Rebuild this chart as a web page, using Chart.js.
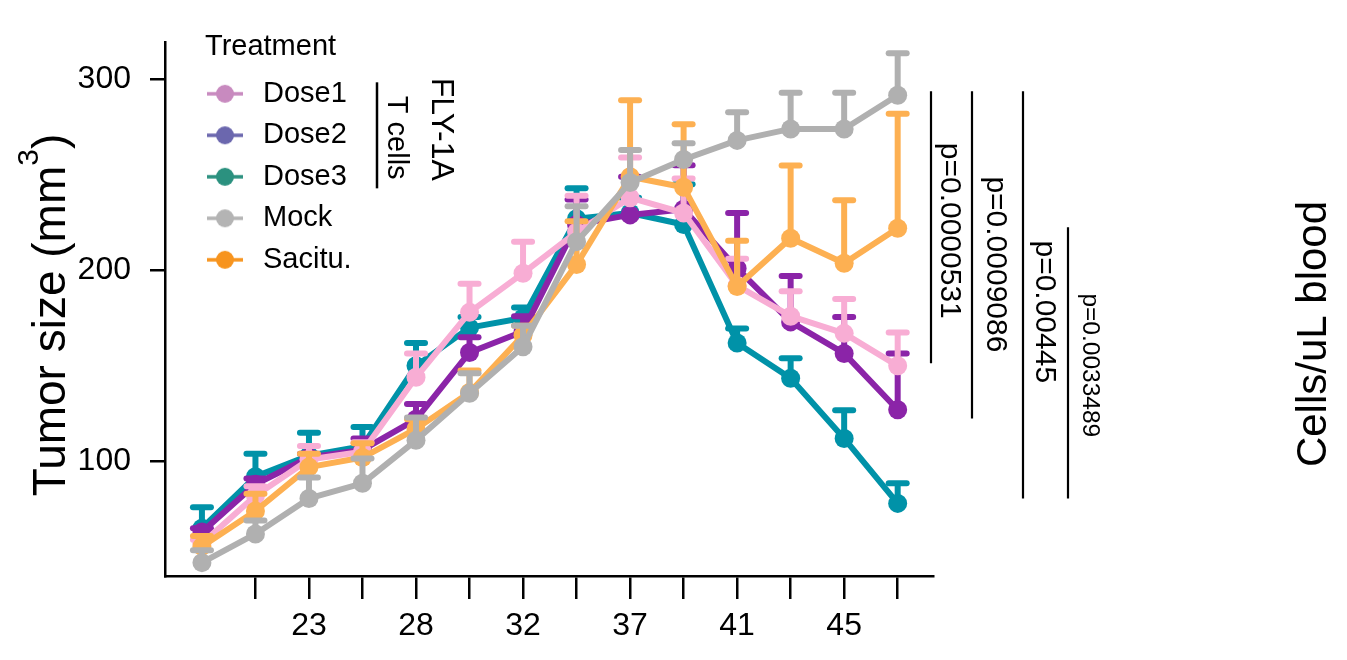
<!DOCTYPE html>
<html>
<head>
<meta charset="utf-8">
<script src="https://cdn.jsdelivr.net/npm/chart.js@4.4.1/dist/chart.umd.min.js"></script>
<style>
html,body{margin:0;padding:0;background:#fff;}
canvas{display:block;}
</style>
</head>
<body>
<canvas id="c" width="1347" height="660" style="width:1347px;height:660px"></canvas>
<script>
// ---------- DATA ----------
const dayIndex   = [0,1,2,3,4,5,6,7,8,9,10,11,12,13];
const tickLabels = ['', '', '23', '', '28', '', '32', '', '37', '', '41', '', '45', ''];
const yTicks     = [100, 200, 300];

const seriesNames = ['Dose1', 'Dose2', 'Dose3', 'Mock', 'Sacitu.'];

const dose1    = [57, 82, 101, 105, 144, 178, 198.5, 220, 238, 230, 192, 176, 167, 150];
const dose1Err = [2, 5, 7, 5, 12.5, 15, 16.5, 19, 21, 18, 14, 13, 18, 17.5];

const dose2    = [63, 88, 102, 106, 122, 157, 168, 224, 229, 232, 201, 173, 156.5, 127];
const dose2Err = [2, 3, 2, 6, 8, 8, 8, 13, 20, 23, 29, 24, 19, 29.5];

const dose3    = [65, 92, 103, 108, 150, 170, 175, 227, 230, 224, 162, 143.5, 112, 78];
const dose3Err = [11, 12, 12, 10, 12, 5.5, 5.6, 16, 8, 21, 7.6, 10.5, 14.7, 10.5];

const mock     = [47, 62, 80.6, 88.5, 111, 135.6, 160, 215, 246, 258, 268, 274, 274, 291.6];
const mockErr  = [6.5, 7, 11, 13, 12, 10.5, 11, 18.5, 17, 8.5, 14.7, 19, 19, 22];

const sacitu    = [55.5, 74, 97, 102, 117, 136, 166, 203, 249, 243.5, 191.5, 216.8, 203.7, 222];
const sacituErr = [5.5, 9, 7, 7.5, 5, 11.6, 5, 22.7, 40, 33, 24, 38, 33, 60];

// p-value brackets (y extents in data units)
const pTexts  = ['p=0.0000531', 'p=0.0009086', 'p=0.00445', 'p=0.0033489'];
const pFrom   = [293.7, 293.7, 293.7, 222.5];
const pTo     = [151.3, 122.5, 80.6, 80.6];
const pMid    = [220.7, 203.1, 178.3, 150.3];

// ---------- STYLE / LAYOUT ----------
const FONT = "'Liberation Sans', Arial, Helvetica, sans-serif";
const lineColors   = ['#F8ADD4', '#8B24A8', '#0092A8', '#B0B0B0', '#FDB052'];
const legendColors = ['#C88ABF', '#6B67AE', '#2B917F', '#B4B4B4', '#F7941E'];
const drawOrder    = [2, 3, 4, 0, 1];
const pLineDx  = [-2, 39, 90, 135];
const pTextDx  = [8, 54, 103, 150];
const pFont    = [30, 30, 30, 24.5];

const allValues = [dose1, dose2, dose3, mock, sacitu];
const allErrs   = [dose1Err, dose2Err, dose3Err, mockErr, sacituErr];

function makeMarker(color) {
  const c = document.createElement('canvas');
  c.width = 52; c.height = 22;
  const g = c.getContext('2d');
  g.strokeStyle = color; g.fillStyle = color; g.lineWidth = 3.5;
  g.beginPath(); g.moveTo(0, 11); g.lineTo(36, 11); g.stroke();
  g.beginPath(); g.arc(18, 11, 9, 0, Math.PI * 2); g.fill();
  return c;
}
const markers = legendColors.map(makeMarker);

const datasets = seriesNames.map((name, k) => ({
  label: name,
  data: dayIndex.map((d, i) => ({x: d, y: allValues[k][i]})),
  errors: allErrs[k],
  borderColor: lineColors[k],
  backgroundColor: lineColors[k],
  pointBackgroundColor: lineColors[k],
  pointBorderWidth: 0,
  pointRadius: 9.5,
  pointHoverRadius: 9.5,
  borderWidth: 6,
  borderJoinStyle: 'round',
  tension: 0,
  order: drawOrder[k],
  clip: false
}));

const errorBars = {
  id: 'errorBars',
  beforeDatasetDraw(chart, args) {
    const ds = chart.data.datasets[args.index];
    if (!ds.errors) return;
    const ctx = chart.ctx, ys = chart.scales.y;
    ctx.save();
    ctx.strokeStyle = ds.borderColor;
    ctx.lineWidth = 6;
    args.meta.data.forEach((pt, i) => {
      const top = ys.getPixelForValue(ds.data[i].y + ds.errors[i]);
      ctx.lineCap = 'butt';
      ctx.beginPath(); ctx.moveTo(pt.x, pt.y); ctx.lineTo(pt.x, top); ctx.stroke();
      ctx.lineCap = 'round';
      ctx.beginPath(); ctx.moveTo(pt.x - 9, top); ctx.lineTo(pt.x + 9, top); ctx.stroke();
    });
    ctx.restore();
  }
};

function rotText(ctx, text, x, y, angle, size, align) {
  ctx.save();
  ctx.translate(x, y);
  ctx.rotate(angle);
  ctx.font = size + 'px ' + FONT;
  ctx.fillStyle = '#000';
  ctx.textAlign = align || 'center';
  ctx.textBaseline = 'alphabetic';
  ctx.fillText(text, 0, 0);
  ctx.restore();
}

const annotations = {
  id: 'annotations',
  afterDraw(chart) {
    const ctx = chart.ctx, ys = chart.scales.y, ca = chart.chartArea;
    ctx.save();
    ctx.strokeStyle = '#000';
    ctx.lineWidth = 2.2;
    pTexts.forEach((t, i) => {
      const x = ca.right + pLineDx[i];
      ctx.beginPath();
      ctx.moveTo(x, ys.getPixelForValue(pFrom[i]));
      ctx.lineTo(x, ys.getPixelForValue(pTo[i]));
      ctx.stroke();
      rotText(ctx, t, ca.right + pTextDx[i], ys.getPixelForValue(pMid[i]), Math.PI / 2, pFont[i]);
    });
    ctx.lineWidth = 2.5;
    const fx = ca.left + 212;
    ctx.beginPath();
    ctx.moveTo(fx, ys.getPixelForValue(298.4));
    ctx.lineTo(fx, ys.getPixelForValue(242.9));
    ctx.stroke();
    rotText(ctx, 'FLY-1A', ca.left + 267, ys.getPixelForValue(273.8), Math.PI / 2, 32);
    rotText(ctx, 'T cells', ca.left + 223, ys.getPixelForValue(269.4), Math.PI / 2, 29);
    rotText(ctx, 'Cells/uL blood', 1326, 334, -Math.PI / 2, 42);
    ctx.translate(65, 315);
    ctx.rotate(-Math.PI / 2);
    ctx.fillStyle = '#000';
    ctx.textBaseline = 'alphabetic';
    ctx.textAlign = 'left';
    const main = 'Tumor size (mm', sup = '3', close = ')';
    ctx.font = '46px ' + FONT; const w1 = ctx.measureText(main).width; const w3 = ctx.measureText(close).width;
    ctx.font = '30px ' + FONT; const w2 = ctx.measureText(sup).width;
    let x0 = -(w1 + w2 + w3) / 2;
    ctx.font = '46px ' + FONT; ctx.fillText(main, x0, 0);
    ctx.font = '30px ' + FONT; ctx.fillText(sup, x0 + w1, -27);
    ctx.font = '46px ' + FONT; ctx.fillText(close, x0 + w1 + w2, 0);
    ctx.restore();
  }
};

const legendPlacer = {
  id: 'legendPlacer',
  afterLayout(chart) {
    const lg = chart.legend;
    if (!lg) return;
    lg.left = 205; lg.top = 32;
    lg.right = lg.left + lg.width; lg.bottom = lg.top + lg.height;
  }
};

Chart.defaults.font.family = FONT;
Chart.defaults.color = '#000';

new Chart(document.getElementById('c'), {
  type: 'line',
  data: { datasets },
  plugins: [errorBars, annotations, legendPlacer],
  options: {
    responsive: false,
    animation: false,
    events: [],
    layout: { padding: { top: 42, right: 414, left: 0, bottom: 0 } },
    plugins: {
      tooltip: { enabled: false },
      legend: {
        position: 'chartArea',
        align: 'start',
        title: { display: true, text: 'Treatment', position: 'start', color: '#000',
                 font: { size: 29, family: FONT }, padding: { top: 0, bottom: 0 } },
        labels: {
          usePointStyle: true,
          pointStyleWidth: 31,
          padding: 12.5,
          color: '#000',
          font: { size: 29, family: FONT },
          generateLabels: (chart) => chart.data.datasets.map((ds, i) => ({
            text: ds.label,
            pointStyle: markers[i],
            fillStyle: legendColors[i],
            strokeStyle: legendColors[i],
            lineWidth: 0,
            hidden: false,
            datasetIndex: i,
            fontColor: '#000'
          }))
        }
      }
    },
    scales: {
      x: {
        type: 'linear',
        min: -0.69,
        max: 13.66,
        afterBuildTicks: (s) => { s.ticks = dayIndex.slice(1).map(v => ({ value: v })); },
        afterFit: (s) => { s.height = 84; },
        border: { display: true, color: '#000', width: 2.5 },
        grid: { display: true, drawOnChartArea: false, drawTicks: true, tickLength: 23, color: '#000', lineWidth: 2.5 },
        ticks: {
          autoSkip: false, maxRotation: 0, minRotation: 0, padding: 8,
          color: '#000', font: { size: 32, family: FONT },
          callback: (v) => tickLabels[v] || ''
        }
      },
      y: {
        min: 40,
        max: 319.5,
        afterBuildTicks: (s) => { s.ticks = yTicks.map(v => ({ value: v })); },
        afterFit: (s) => { s.width = 165; },
        border: { display: true, color: '#000', width: 2.5 },
        grid: { display: true, drawOnChartArea: false, drawTicks: true, tickLength: 15, color: '#000', lineWidth: 2.5 },
        ticks: {
          padding: 19, color: '#000', font: { size: 32, family: FONT },
          callback: (v) => String(v)
        }
      }
    }
  }
});
</script>
</body>
</html>
